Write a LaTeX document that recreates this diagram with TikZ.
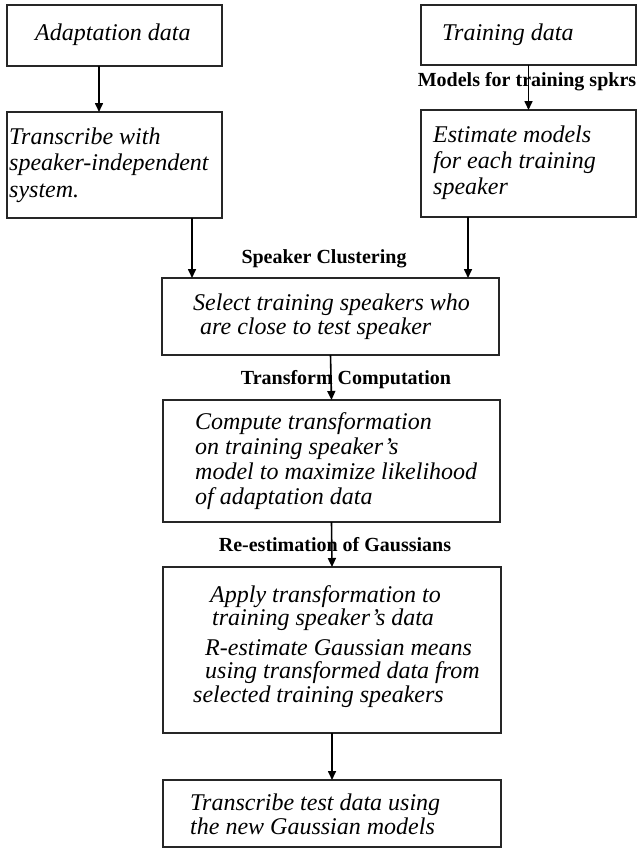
\documentclass[tikz,border=0pt]{standalone}
\usepackage{fontspec}
\setmainfont{Liberation Serif}
\usetikzlibrary{arrows.meta}
\begin{document}
\begin{tikzpicture}[x=1pt,y=-1pt,
  box/.style={draw=black!85,line width=1.1pt,inner sep=0pt,outer sep=0pt,anchor=north west},
  txt/.style={inner sep=0pt,anchor=base west,align=left,font=\fontsize{24}{26.5}\selectfont\itshape},
  lbl/.style={inner sep=0pt,anchor=base,font=\fontsize{20}{22}\selectfont\bfseries},
  arr/.style={line width=1.6pt,-{Triangle[length=9pt,width=8pt]}}]
\useasboundingbox (0,0) rectangle (643,857);
% boxes
\node[box,minimum width=215pt,minimum height=61pt] (adapt) at (7,5) {};
\node[box,minimum width=215pt,minimum height=60pt] (train) at (421,5) {};
\node[box,minimum width=215pt,minimum height=106pt] (trans) at (7,112) {};
\node[box,minimum width=215pt,minimum height=107pt] (est) at (421,110) {};
\node[box,minimum width=337pt,minimum height=77pt] (sel) at (162,278) {};
\node[box,minimum width=337pt,minimum height=122pt] (comp) at (163,400) {};
\node[box,minimum width=338pt,minimum height=166pt] (apply) at (163,567) {};
\node[box,minimum width=338pt,minimum height=67pt] (test) at (163,780) {};
% texts (anchor = baseline of the last line)
\node[txt] (t1) at (35,40) {Adaptation data};
\node[txt] (t2) at (442,40) {Training data};
\node[txt] (t3) at (9,197) {Transcribe with\\speaker-independent\\system.};
\node[txt,font=\fontsize{24}{26}\selectfont\itshape] (t4) at (433,194) {Estimate models\\for each training\\speaker};
\node[txt,font=\fontsize{24}{24}\selectfont\itshape] (t5) at (193,334) {Select training speakers who\\\hspace{7pt}are close to test speaker};
\node[txt,font=\fontsize{24}{24.7}\selectfont\itshape] (t6) at (195,504) {Compute transformation\\on training speaker's\\model to maximize likelihood\\of adaptation data};
\node[txt,font=\fontsize{24}{21.5}\selectfont\itshape] (t7) at (210,625) {Apply transformation to\\\hspace{2pt}training speaker's data};
\node[txt,font=\fontsize{24}{23.5}\selectfont\itshape] (t8) at (205,702) {R-estimate Gaussian means\\using transformed data from\\\hspace{-12pt}selected training speakers};
\node[txt,font=\fontsize{24}{24}\selectfont\itshape] (t9) at (190,834) {Transcribe test data using\\the new Gaussian models};
% labels
\node[lbl] (l1) at (527,86) {Models for training spkrs};
\node[lbl] (l2) at (324,263) {Speaker Clustering};
\node[lbl] (l3) at (346,384) {Transform Computation};
\node[lbl] (l4) at (335,551) {Re-estimation of Gaussians};
% connectors
\coordinate (ax) at (99,0);
\coordinate (lx) at (192,0);
\coordinate (rx) at (468,0);
\draw[arr] (adapt.south -| ax) -- (trans.north -| ax);
\draw[arr] (train.south) -- (est.north);
\draw[arr] (trans.south -| lx) -- (sel.north -| lx);
\draw[arr] (est.south -| rx) -- (sel.north -| rx);
\draw[arr] (sel.south) -- (comp.north);
\draw[arr] (comp.south) -- (apply.north);
\draw[arr] (apply.south) -- (test.north);
\end{tikzpicture}
\end{document}
